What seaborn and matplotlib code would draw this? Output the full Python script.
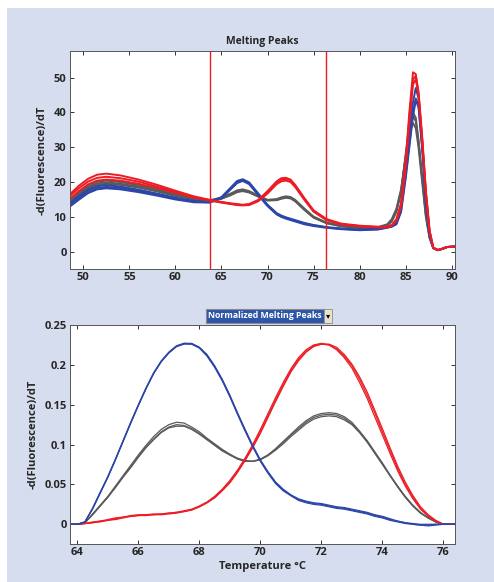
import numpy as np
import pandas as pd
import matplotlib
matplotlib.use('Agg')
import matplotlib.pyplot as plt
import seaborn as sns
from matplotlib.patches import Rectangle

# ---- data ----
temp_top = [48.5, 49.5, 50.5, 51.5, 52.5, 54, 56, 58, 60, 62, 63.7, 65, 66, 66.7, 67.3,
            68, 69, 70, 71, 71.5, 72, 72.5, 73, 74, 75, 76.4, 78, 80, 82, 83, 83.5, 84,
            84.5, 85, 85.4, 85.8, 86.1, 86.4, 86.8, 87.2, 87.6, 88, 88.5, 89, 89.5, 90.4]

red_top_1 = [16.5, 19, 21, 22.2, 22.5, 22, 20.8, 19.3, 17.6, 16, 15, 14.4, 14, 13.8, 13.6,
             13.8, 15, 17.5, 20.3, 21.2, 21.3, 20.8, 19.3, 15.5, 12, 9.5, 8.2, 7.6, 7.3, 7.3, 7.8, 9.5,
             14, 26, 40, 51.5, 51, 45, 32, 17, 6, 1.2, 0.6, 1.0, 1.5, 1.6]
red_top_2 = [16, 18.3, 20.2, 21.3, 21.6, 21.2, 20.2, 18.8, 17.3, 15.8, 14.9, 14.3, 13.9, 13.6, 13.5,
             13.6, 14.8, 17.2, 20, 20.8, 21, 20.5, 19, 15.3, 11.8, 9.3, 8, 7.5, 7.2, 7.2, 7.7, 9.2,
             13.5, 25, 38.5, 49.5, 50.5, 46, 33, 17.5, 6.2, 1.3, 0.6, 1.0, 1.5, 1.6]
red_top_3 = [15.2, 17.5, 19.4, 20.5, 20.8, 20.5, 19.6, 18.4, 17, 15.6, 14.8, 14.2, 13.8, 13.5, 13.4,
             13.5, 14.6, 16.8, 19.5, 20.3, 20.5, 20.1, 18.7, 15, 11.6, 9.2, 7.9, 7.4, 7.1, 7.1, 7.6, 9,
             13, 24, 37, 48, 49.5, 45, 32, 17, 6, 1.3, 0.6, 1.0, 1.5, 1.6]

gray_top_1 = [15, 17.2, 19.2, 20.2, 20.5, 20.1, 19.2, 18, 16.6, 15.5, 14.9, 15.6, 16.8, 17.7, 18,
              17.5, 16.2, 15, 15.2, 15.7, 16, 15.8, 15, 12.5, 10.2, 8.5, 7.6, 7.1, 7.2, 8, 9.5, 12.5,
              18, 27, 34, 37, 35.5, 30, 20, 10, 4, 1.2, 0.6, 1.0, 1.5, 1.6]
gray_top_2 = [14.5, 16.7, 18.7, 19.7, 20, 19.6, 18.8, 17.6, 16.3, 15.3, 14.8, 15.4, 16.5, 17.4, 17.7,
              17.3, 16, 14.9, 15, 15.5, 15.8, 15.6, 14.8, 12.3, 10, 8.4, 7.5, 7, 7.1, 7.8, 9.2, 12,
              17.5, 27.5, 35.5, 39, 37.5, 31.5, 21, 10.5, 4.2, 1.2, 0.6, 1.0, 1.5, 1.6]
gray_top_3 = [14.2, 16.3, 18.3, 19.3, 19.6, 19.3, 18.5, 17.4, 16.1, 15.1, 14.7, 15.3, 16.3, 17.2, 17.5,
              17.1, 15.9, 14.8, 14.9, 15.3, 15.6, 15.4, 14.6, 12.1, 9.9, 8.3, 7.4, 6.9, 7, 7.6, 8.8, 11.5,
              17, 28, 36.5, 40, 38.5, 32, 21.5, 11, 4.4, 1.2, 0.6, 1.0, 1.5, 1.6]

blue_top_1 = [14, 16, 17.9, 18.9, 19.2, 18.8, 17.9, 16.8, 15.6, 14.7, 14.4, 15.8, 18.5, 20.4, 20.9,
              20, 16.8, 13.6, 11.2, 10.5, 10, 9.6, 9.2, 8.4, 7.8, 7.2, 6.8, 6.5, 6.7, 7.2, 7.5, 8.5,
              13, 24, 34, 43, 47, 44, 31, 15, 5, 1.2, 0.6, 1.0, 1.5, 1.6]
blue_top_2 = [13.5, 15.5, 17.4, 18.4, 18.7, 18.4, 17.5, 16.5, 15.3, 14.5, 14.3, 15.6, 18.2, 20.1, 20.7,
              19.8, 16.6, 13.4, 11, 10.3, 9.8, 9.4, 9, 8.2, 7.7, 7.1, 6.7, 6.4, 6.6, 7.1, 7.4, 8.2,
              12, 22, 31, 40, 44, 42, 30, 15, 5, 1.2, 0.6, 1.0, 1.5, 1.6]
blue_top_3 = [13, 15, 16.9, 18, 18.3, 18, 17.2, 16.2, 15.1, 14.3, 14.2, 15.4, 18, 19.8, 20.4,
              19.5, 16.3, 13.2, 10.8, 10.1, 9.6, 9.2, 8.8, 8, 7.5, 7, 6.6, 6.3, 6.5, 7, 7.3, 8,
              11.5, 21, 30, 39, 43.5, 41.5, 29.5, 14.5, 4.8, 1.2, 0.6, 1.0, 1.5, 1.6]

temp_bot = [63.76, 64.0, 64.25, 64.5, 64.75, 65.0, 65.25, 65.5, 65.75, 66.0, 66.25, 66.5, 66.75,
            67.0, 67.25, 67.5, 67.75, 68.0, 68.25, 68.5, 68.75, 69.0, 69.25, 69.5, 69.75,
            70.0, 70.25, 70.5, 70.75, 71.0, 71.25, 71.5, 71.75, 72.0, 72.25, 72.5, 72.75,
            73.0, 73.25, 73.5, 73.75, 74.0, 74.25, 74.5, 74.75, 75.0, 75.25, 75.5, 75.75,
            76.0, 76.38]

blue_bot_1 = [0, 0, 0.003, 0.020, 0.040, 0.060, 0.082, 0.105, 0.128, 0.150, 0.171, 0.190, 0.205,
              0.216, 0.224, 0.227, 0.226, 0.221, 0.211, 0.197, 0.180, 0.160, 0.138, 0.117, 0.097,
              0.079, 0.064, 0.051, 0.042, 0.036, 0.031, 0.028, 0.026, 0.025, 0.023, 0.021, 0.020,
              0.018, 0.016, 0.014, 0.011, 0.009, 0.006, 0.004, 0.002, 0.001, 0, 0, 0,
              0, 0]
blue_bot_2 = [0, 0, 0.003, 0.019, 0.039, 0.059, 0.081, 0.104, 0.127, 0.149, 0.170, 0.189, 0.204,
              0.215, 0.223, 0.226, 0.226, 0.222, 0.213, 0.199, 0.182, 0.162, 0.140, 0.119, 0.099,
              0.081, 0.066, 0.053, 0.044, 0.037, 0.032, 0.029, 0.027, 0.026, 0.024, 0.022, 0.021,
              0.019, 0.017, 0.015, 0.012, 0.010, 0.007, 0.004, 0.002, 0.000, -0.001, -0.002, -0.001,
              0, 0]
blue_bot_3 = [0, 0, 0.003, 0.020, 0.040, 0.059, 0.081, 0.104, 0.127, 0.149, 0.170, 0.189, 0.204,
              0.215, 0.223, 0.227, 0.227, 0.222, 0.212, 0.198, 0.181, 0.161, 0.139, 0.118, 0.098,
              0.080, 0.065, 0.052, 0.043, 0.036, 0.030, 0.027, 0.025, 0.024, 0.022, 0.020, 0.019,
              0.017, 0.015, 0.013, 0.010, 0.008, 0.005, 0.003, 0.001, 0.000, -0.001, -0.001, 0,
              0, 0]

red_bot_1 = [0, 0, 0.001, 0.002, 0.004, 0.005, 0.007, 0.009, 0.010, 0.011, 0.012, 0.012, 0.013,
             0.014, 0.015, 0.017, 0.019, 0.023, 0.028, 0.035, 0.044, 0.055, 0.068, 0.083, 0.100,
             0.119, 0.139, 0.159, 0.178, 0.195, 0.209, 0.219, 0.225, 0.227, 0.225, 0.219, 0.209,
             0.196, 0.178, 0.158, 0.135, 0.112, 0.089, 0.067, 0.048, 0.032, 0.019, 0.010, 0.004,
             0, 0]
red_bot_2 = [0, 0, 0.001, 0.002, 0.003, 0.005, 0.006, 0.008, 0.010, 0.011, 0.011, 0.012, 0.012,
             0.013, 0.014, 0.016, 0.018, 0.022, 0.027, 0.033, 0.042, 0.052, 0.065, 0.080, 0.096,
             0.114, 0.134, 0.154, 0.173, 0.191, 0.205, 0.216, 0.223, 0.226, 0.226, 0.222, 0.213,
             0.201, 0.185, 0.166, 0.143, 0.120, 0.096, 0.073, 0.053, 0.036, 0.022, 0.012, 0.005,
             0, 0]
red_bot_3 = [0, 0, 0.001, 0.003, 0.004, 0.006, 0.008, 0.009, 0.011, 0.012, 0.012, 0.013, 0.013,
             0.014, 0.015, 0.016, 0.018, 0.022, 0.027, 0.034, 0.043, 0.053, 0.066, 0.081, 0.098,
             0.116, 0.136, 0.156, 0.175, 0.193, 0.207, 0.217, 0.224, 0.226, 0.225, 0.220, 0.211,
             0.199, 0.182, 0.162, 0.140, 0.116, 0.093, 0.070, 0.050, 0.034, 0.020, 0.011, 0.004,
             0, 0]

gray_bot_1 = [0, 0, 0.002, 0.013, 0.024, 0.035, 0.048, 0.061, 0.074, 0.087, 0.099, 0.110, 0.119,
              0.125, 0.128, 0.127, 0.122, 0.116, 0.108, 0.101, 0.094, 0.088, 0.083, 0.080, 0.079,
              0.082, 0.087, 0.095, 0.104, 0.113, 0.122, 0.130, 0.136, 0.139, 0.140, 0.139, 0.135,
              0.128, 0.117, 0.105, 0.091, 0.077, 0.062, 0.048, 0.035, 0.024, 0.015, 0.008, 0.003,
              0, 0]
gray_bot_2 = [0, 0, 0.002, 0.012, 0.023, 0.034, 0.046, 0.059, 0.071, 0.084, 0.096, 0.106, 0.115,
              0.121, 0.123, 0.123, 0.119, 0.113, 0.106, 0.099, 0.092, 0.087, 0.082, 0.079, 0.079,
              0.081, 0.086, 0.093, 0.101, 0.110, 0.118, 0.126, 0.132, 0.135, 0.136, 0.135, 0.131,
              0.125, 0.115, 0.103, 0.089, 0.075, 0.061, 0.047, 0.034, 0.023, 0.014, 0.008, 0.003,
              0, 0]
gray_bot_3 = [0, 0, 0.002, 0.012, 0.023, 0.034, 0.047, 0.060, 0.072, 0.085, 0.097, 0.107, 0.116,
              0.122, 0.125, 0.124, 0.120, 0.114, 0.107, 0.100, 0.093, 0.087, 0.082, 0.079, 0.079,
              0.081, 0.087, 0.094, 0.103, 0.112, 0.120, 0.128, 0.134, 0.137, 0.138, 0.137, 0.133,
              0.126, 0.116, 0.104, 0.090, 0.076, 0.061, 0.047, 0.034, 0.023, 0.014, 0.008, 0.003,
              0, 0]

region_lines = [63.76, 76.4]

colors = {'gray': '#5a5a5a', 'blue': '#2b46a8', 'red': '#ec1c24'}


def to_long(temps, curves):
    rows = []
    for (group, rep), vals in curves.items():
        for t, v in zip(temps, vals):
            rows.append((group, rep, t, v))
    return pd.DataFrame(rows, columns=['group', 'rep', 'temp', 'value'])


top_df = to_long(temp_top, {
    ('gray', 1): gray_top_1, ('gray', 2): gray_top_2, ('gray', 3): gray_top_3,
    ('blue', 1): blue_top_1, ('blue', 2): blue_top_2, ('blue', 3): blue_top_3,
    ('red', 1): red_top_1, ('red', 2): red_top_2, ('red', 3): red_top_3,
})
bot_df = to_long(temp_bot, {
    ('gray', 1): gray_bot_1, ('gray', 2): gray_bot_2, ('gray', 3): gray_bot_3,
    ('red', 1): red_bot_1, ('red', 2): red_bot_2, ('red', 3): red_bot_3,
    ('blue', 1): blue_bot_1, ('blue', 2): blue_bot_2, ('blue', 3): blue_bot_3,
})

sns.set_style('white')
plt.rcParams['font.family'] = ['Open Sans', 'DejaVu Sans']
plt.rcParams['font.weight'] = 'bold'

fig = plt.figure(figsize=(4.94, 5.82), dpi=100)
fig.patch.set_facecolor('white')
fig.patches.append(Rectangle((7 / 494, 0), 1, 1 - 8 / 582, transform=fig.transFigure,
                             facecolor='#d6ddee', edgecolor='none', zorder=-10))

ax1 = fig.add_axes([70 / 494, 1 - 269 / 582, 385 / 494, 218 / 582])
ax2 = fig.add_axes([70 / 494, 1 - 544 / 582, 385 / 494, 219 / 582])

sns.lineplot(data=top_df, x='temp', y='value', hue='group', units='rep', estimator=None,
             palette=colors, linewidth=1.4, legend=False, ax=ax1, sort=False)
sns.lineplot(data=bot_df, x='temp', y='value', hue='group', units='rep', estimator=None,
             palette=colors, linewidth=0.9, legend=False, ax=ax2, sort=False)

for x in region_lines:
    ax1.axvline(x, color='#ec1c24', linewidth=1.0)

ax1.set_xlim(48.55, 90.36)
ax1.set_ylim(-4.8, 57.6)
ax1.set_xticks(range(50, 91, 5))
ax1.set_yticks(range(0, 51, 10))
ax1.set_title('Melting Peaks', fontsize=7.5, fontweight='bold', pad=5)
ax1.set_xlabel('')

ax2.set_xlim(63.76, 76.38)
ax2.set_ylim(-0.0247, 0.25)
ax2.set_xticks(range(64, 77, 2))
ax2.set_yticks([0, 0.05, 0.1, 0.15, 0.2, 0.25])
ax2.set_yticklabels(['0', '0.05', '0.1', '0.15', '0.2', '0.25'])
ax2.set_xlabel('Temperature °C', fontsize=8, fontweight='bold', labelpad=2)

for ax in (ax1, ax2):
    ax.set_facecolor('white')
    ax.set_ylabel('-d(Fluorescence)/dT', fontsize=8, fontweight='bold', labelpad=4)
    for s in ax.spines.values():
        s.set_visible(True)
        s.set_color('#555555')
        s.set_linewidth(0.7)
    ax.tick_params(axis='both', which='both', direction='in', length=3, width=0.7,
                   top=True, right=True, left=True, bottom=True,
                   labelsize=8, pad=2.5, color='#333333')
    for lab in ax.get_xticklabels() + ax.get_yticklabels():
        lab.set_fontweight('bold')

# drop-down style label over the lower panel
fig.text(265 / 494, 1 - 316 / 582, 'Normalized Melting Peaks', ha='center', va='center',
         fontsize=6.3, fontweight='bold', color='white',
         bbox=dict(boxstyle='square,pad=0.3', facecolor='#2d56a8', edgecolor='#8a8a8a',
                   linewidth=0.8))
fig.text(328 / 494, 1 - 316 / 582, '▾', ha='center', va='center', fontsize=6,
         color='black', family='DejaVu Sans',
         bbox=dict(boxstyle='square,pad=0.25', facecolor='#e8e4cc', edgecolor='#8a8a8a',
                   linewidth=0.6))

fig.savefig('out.png', dpi=100)
